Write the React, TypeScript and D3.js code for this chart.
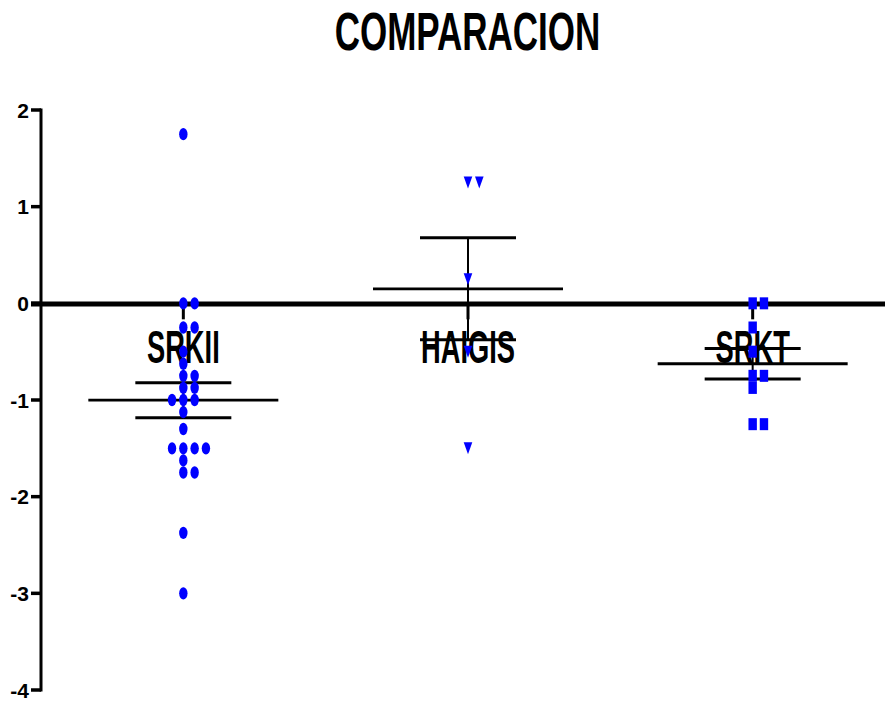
import React from "react";
import * as d3 from "d3";

const categories = ["SRKII", "HAIGIS", "SRKT"];
const srkii = [1.75, 0, 0, -0.25, -0.25, -0.5, -0.625, -0.75, -0.75, -0.875, -0.875, -1, -1, -1, -1.125, -1.3, -1.5, -1.5, -1.5, -1.5, -1.625, -1.75, -1.75, -2.375, -3];
const haigis = [1.25, 1.25, 0.25, -0.5, -1.5];
const srkt = [0, 0, -0.25, -0.5, -0.75, -0.75, -0.875, -1.25, -1.25];
const yTicks = [2, 1, 0, -1, -2, -3, -4];
const title = "COMPARACION";

const W = 885;
const H = 703;
const font = "'Liberation Sans', Arial, sans-serif";
const blue = "#0000ff";

// simple swarm: same value row -> spread into slots
function swarm(values: number[], cx: number, y: d3.ScaleLinear<number, number>) {
  const placed: { slot: number; py: number }[] = [];
  const order = [0, 1, -1, 2, -2, 3, -3, 4, -4];
  return values.map((v) => {
    const py = y(v);
    const slot = order.find((s) => !placed.some((p) => p.slot === s && Math.abs(p.py - py) < 10)) ?? 0;
    placed.push({ slot, py });
    return { x: cx + slot * 11.3, y: py };
  });
}

export default function App() {
  const y = d3.scaleLinear().domain([-4, 2]).range([690, 110]);
  const x = d3.scalePoint<string>().domain(categories).range([41, 895]).padding(0.5);
  const groups = [srkii, haigis, srkt];
  const axisX = 41;

  const stats = groups.map((g) => {
    const m = d3.mean(g) as number;
    const sem = (d3.deviation(g) as number) / Math.sqrt(g.length);
    return { m, sem };
  });

  const symbol = (kind: number, px: number, py: number, key: string) => {
    if (kind === 0) return <ellipse key={key} cx={px} cy={py} rx={4.2} ry={6.2} fill={blue} />;
    if (kind === 1)
      return <path key={key} d={`M${px - 4.3},${py - 6}L${px + 4.3},${py - 6}L${px},${py + 6}Z`} fill={blue} />;
    return <rect key={key} x={px - 4.2} y={py - 6} width={8.4} height={12} fill={blue} />;
  };

  return (
    <svg width={W} height={H} style={{ position: "absolute", left: 0, top: 0, background: "#fff" }}>
      {/* title */}
      <text
        transform={`translate(${467.5},50) scale(1,1.52)`}
        textAnchor="middle"
        fontFamily={font}
        fontWeight="bold"
        fontSize={35}
      >
        {title}
      </text>

      {/* y axis */}
      <line x1={axisX} x2={axisX} y1={y(2) - 1.5} y2={y(-4) + 1.5} stroke="#000" strokeWidth={3} />
      {yTicks.map((t) => (
        <g key={t}>
          <line x1={31} x2={axisX} y1={y(t)} y2={y(t)} stroke="#000" strokeWidth={3.5} />
          <text x={29} y={y(t) + 7.5} textAnchor="end" fontFamily={font} fontWeight="bold" fontSize={21}>
            {t}
          </text>
        </g>
      ))}

      {/* zero baseline with category ticks */}
      <line x1={31} x2={W} y1={y(0) + 0.7} y2={y(0) + 0.7} stroke="#000" strokeWidth={5} />
      {categories.map((c) => (
        <line key={c} x1={x(c)} x2={x(c)} y1={y(0)} y2={y(0) + 16} stroke="#000" strokeWidth={3} />
      ))}
      {categories.map((c) => (
        <text
          key={c}
          transform={`translate(${x(c)},363) scale(1,1.69)`}
          textAnchor="middle"
          fontFamily={font}
          fontWeight="bold"
          fontSize={27.3}
        >
          {c}
        </text>
      ))}

      {/* mean +/- SEM */}
      {categories.map((c, i) => {
        const cx = x(c) as number;
        const { m, sem } = stats[i];
        return (
          <g key={c} stroke="#000">
            <line x1={cx} x2={cx} y1={y(m + sem)} y2={y(m - sem)} strokeWidth={2} />
            <line x1={cx - 95} x2={cx + 95} y1={y(m)} y2={y(m)} strokeWidth={2.8} />
            <line x1={cx - 48} x2={cx + 48} y1={y(m + sem)} y2={y(m + sem)} strokeWidth={3} />
            <line x1={cx - 48} x2={cx + 48} y1={y(m - sem)} y2={y(m - sem)} strokeWidth={3} />
          </g>
        );
      })}

      {/* points */}
      {categories.map((c, i) =>
        swarm(groups[i], x(c) as number, y).map((p, j) => symbol(i, p.x, p.y, `${c}-${j}`))
      )}
    </svg>
  );
}
